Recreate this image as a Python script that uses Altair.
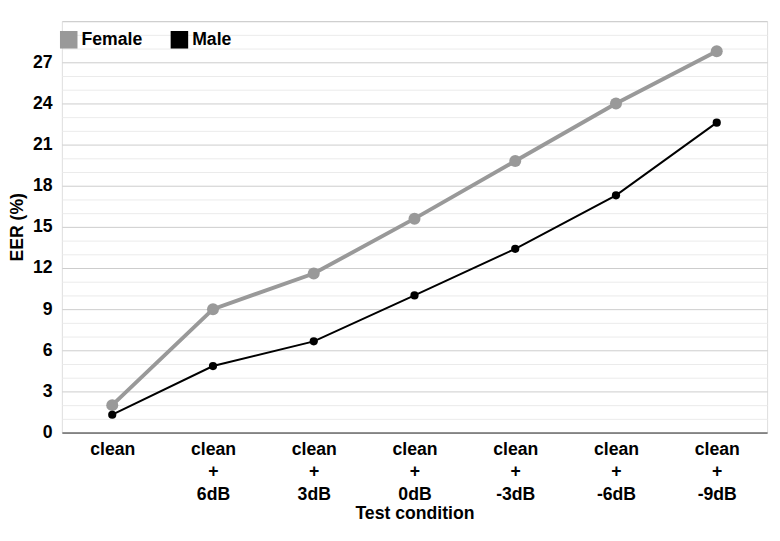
import altair as alt
import pandas as pd

conditions = ["clean", "clean|+|6dB", "clean|+|3dB", "clean|+|0dB", "clean|+|-3dB", "clean|+|-6dB", "clean|+|-9dB"]
female = [2.0, 9.0, 11.6, 15.6, 19.8, 24.0, 27.8]
male = [1.3, 4.85, 6.65, 10.0, 13.4, 17.3, 22.6]

rows = []
for c, f, m in zip(conditions, female, male):
    rows.append({"cond": c, "gender": "Female", "eer": f})
    rows.append({"cond": c, "gender": "Male", "eer": m})
df = pd.DataFrame(rows)

FONT = "Liberation Sans"
FS = 18
color = alt.Color("gender:N", scale=alt.Scale(domain=["Female", "Male"], range=["#999999", "#000000"]),
                  legend=alt.Legend(title=None, orient="none", legendX=-2, legendY=10, direction="horizontal",
                                    symbolType="square", symbolSize=320, symbolStrokeWidth=0,
                                    labelFont=FONT, labelFontSize=FS, labelFontWeight="bold",
                                    labelColor="#000", columnPadding=28, symbolOpacity=1))

x = alt.X("cond:N", sort=conditions, scale=alt.Scale(type="point", padding=0.5),
          axis=alt.Axis(title="Test condition", labelExpr="split(datum.label, '|')", labelAngle=0,
                        labelFont=FONT, labelFontSize=FS, labelFontWeight="bold", labelColor="#000",
                        titleFont=FONT, titleFontSize=FS, titleFontWeight="bold", titleColor="#000",
                        ticks=False, domainColor="#333", labelPadding=8, labelLineHeight=23, titlePadding=2, grid=False))
y = alt.Y("eer:Q", scale=alt.Scale(domain=[0, 30], nice=False),
          axis=alt.Axis(title="EER (%)", values=list(range(0, 31)),
                        labelExpr="datum.value % 3 === 0 && datum.value < 30 ? datum.label : ''",
                        labelFont=FONT, labelFontSize=FS, labelFontWeight="bold", labelColor="#000",
                        titleFont=FONT, titleFontSize=FS, titleFontWeight="bold", titleColor="#000",
                        ticks=False, domain=False, labelPadding=10, titlePadding=6,
                        gridColor={"condition": {"test": "datum.value % 3 === 0", "value": "#cccccc"}, "value": "#ebebeb"}))

base = alt.Chart(df).encode(x=x, y=y, color=color)
fem = base.transform_filter("datum.gender == 'Female'")
mal = base.transform_filter("datum.gender == 'Male'")
chart = alt.layer(
    fem.mark_line(strokeWidth=4),
    fem.mark_circle(size=150, opacity=1),
    mal.mark_line(strokeWidth=2),
    mal.mark_circle(size=70, opacity=1),
).properties(width=720, height=420).configure_view(stroke=None).configure(padding={"left": 0, "top": 8, "right": 5, "bottom": 0})

chart.save("out.html", embed_options={"renderer": "svg", "actions": False})
